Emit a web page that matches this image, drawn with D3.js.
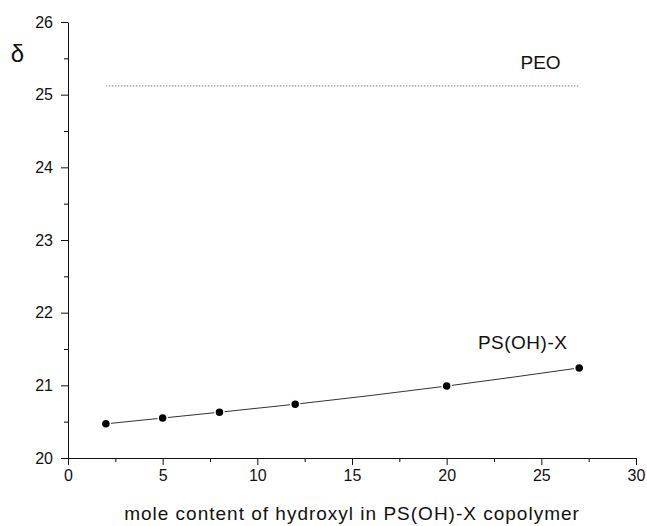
<!DOCTYPE html>
<html>
<head>
<meta charset="utf-8">
<script src="https://cdn.jsdelivr.net/npm/d3@7"></script>
<style>
body{margin:0;background:#fff;}
text{font-family:"Liberation Sans",Arial,sans-serif;fill:#111;}
</style>
</head>
<body>
<svg></svg>
<script>
//data
var hydroxyl = [2, 5, 8, 12, 20, 27];
var deltaPS = [20.47, 20.55, 20.63, 20.74, 20.99, 21.24];
var peoDelta = 25.12;
var peoRange = [2, 27];
var xTicks = [0, 5, 10, 15, 20, 25, 30];
var yTicks = [20, 21, 22, 23, 24, 25, 26];

/*********layout************/
var width = 647, height = 526;
var padding = {top:22, right:11, bottom:68, left:68};
var svg = d3.select('svg').attr('width',width).attr('height',height);
var chartW = width - padding.left - padding.right;
var chartH = height - padding.top - padding.bottom;

var xScale = d3.scaleLinear().domain([0,30]).range([0,chartW]);
var yScale = d3.scaleLinear().domain([20,26]).range([chartH,0]);

var g = svg.append('g').attr('transform','translate('+padding.left+','+padding.top+')');

//minor ticks first, then major axes on top
g.append('g').attr('transform','translate(0,'+chartH+')')
	.call(d3.axisBottom(xScale).tickValues(d3.range(2.5,30,5)).tickSize(4).tickFormat(''))
	.call(function(s){s.select('.domain').remove();});
g.append('g')
	.call(d3.axisLeft(yScale).tickValues(d3.range(20.5,26,1)).tickSize(4).tickFormat(''))
	.call(function(s){s.select('.domain').remove();});

var axX = g.append('g').attr('transform','translate(0,'+chartH+')')
	.call(d3.axisBottom(xScale).tickValues(xTicks).tickFormat(d3.format('d')).tickSize(7).tickSizeOuter(0).tickPadding(5));
var axY = g.append('g')
	.call(d3.axisLeft(yScale).tickValues(yTicks).tickFormat(d3.format('d')).tickSize(7).tickSizeOuter(0).tickPadding(8));
[axX,axY].forEach(function(a){
	a.selectAll('text').style('font-size','16px').style('font-family','"Liberation Sans",Arial,sans-serif').attr('fill','#111');
	a.selectAll('line,path').attr('stroke','#111');
});

//PEO dotted reference line
g.append('line')
	.attr('x1',xScale(peoRange[0])).attr('x2',xScale(peoRange[1]))
	.attr('y1',yScale(peoDelta)).attr('y2',yScale(peoDelta))
	.attr('stroke','#777').attr('stroke-width',1).attr('stroke-dasharray','1.5,1.5');

//fitted curve through PS(OH)-X points
var pts = hydroxyl.map(function(d,i){return [d,deltaPS[i]];});
var line = d3.line().x(function(d){return xScale(d[0]);}).y(function(d){return yScale(d[1]);}).curve(d3.curveMonotoneX);
g.append('path').datum(pts).attr('d',line)
	.attr('fill','none').attr('stroke','#333').attr('stroke-width',1);

g.selectAll('circle.pt').data(pts).enter().append('circle')
	.attr('class','pt')
	.attr('cx',function(d){return xScale(d[0]);})
	.attr('cy',function(d){return yScale(d[1]);})
	.attr('r',4.5).attr('fill','#000').attr('stroke','#fff').attr('stroke-width',1.5);

//labels
g.append('text').attr('x',xScale(23.9)).attr('y',yScale(25.35)).style('font-size','19px').text('PEO');
g.append('text').attr('x',xScale(21.65)).attr('y',yScale(21.5)).style('font-size','19px').style('letter-spacing','0.5px').text('PS(OH)-X');
svg.append('text').attr('x',17.5).attr('y',62).attr('text-anchor','middle').style('font-size','24px').text('δ');
svg.append('text').attr('x',352).attr('y',520).attr('text-anchor','middle')
	.style('font-size','19px').style('letter-spacing','1px').text('mole content of hydroxyl in PS(OH)-X copolymer');
</script>
</body>
</html>
